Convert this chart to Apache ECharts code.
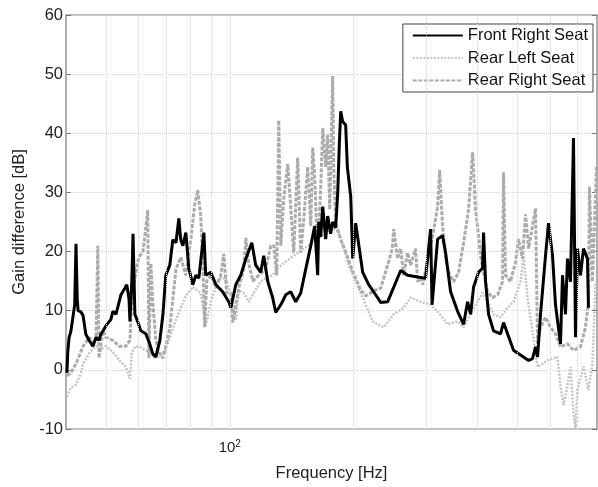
<!DOCTYPE html>
<html><head><meta charset="utf-8">
<script src="https://cdn.jsdelivr.net/npm/echarts@6/dist/echarts.min.js"></script>
<style>html,body{margin:0;padding:0;background:#fff}#c{width:598px;height:487px}</style>
</head><body><div id="c"></div>
<script>
// [frequency Hz, gain difference dB]
const frontRight = [[40.2,-0.5],[40.4,3],[40.7,5.5],[41.1,6.5],[41.6,9],[42.0,11],[42.3,21.3],[42.6,12],[42.8,10],[43.5,9.8],[44.0,9.2],[44.7,6],[45.5,5],[46.0,4.5],[46.5,4],[47.3,5.5],[48.1,5],[48.6,6],[49.2,6.6],[50.3,7.7],[51.4,8.5],[52.0,9.9],[52.9,9.4],[54.4,12.7],[55.6,13.8],[56.2,14.4],[56.9,12],[57.2,8.2],[57.8,15],[58.2,23],[58.8,9.4],[59.7,8.2],[60.8,6.6],[62.5,6.1],[63.9,4.4],[65.0,2.7],[66.1,2.2],[67.6,4.9],[68.8,9.4],[69.9,16],[71.5,17.7],[72.7,22],[74.0,21.5],[75.2,25.6],[76.0,22],[76.9,21],[78.2,23.2],[79.5,17.2],[81.3,14.4],[82.7,16],[84.1,15.5],[86.5,23.2],[87.4,16],[89.9,16.5],[92.5,14.4],[96.1,13.2],[99.4,11.5],[100.6,10.5],[103.4,14.4],[106.3,16],[109.4,18.8],[113.1,21.5],[115.6,17.7],[118.9,16.5],[120.9,19.3],[123.7,14.9],[127.1,12.2],[129.3,9.7],[133,11],[136.8,12.7],[140.6,13.2],[144.6,11.5],[148.7,13],[152.9,17],[157.3,21],[160.8,24.3],[163.5,16],[164.4,25],[166.3,22.5],[168.2,27.6],[171.0,22.1],[172.9,26],[175.8,23],[177.8,25],[180.8,24],[182.9,30],[184.5,38],[186.0,43.7],[188,42],[191.2,41.4],[193,34.3],[196.7,29.3],[198.9,18.8],[202.2,24.8],[210.3,16.5],[217.5,14.4],[226.1,12.7],[232.6,11.4],[241.8,11.5],[260.1,16.8],[270.4,16],[285.9,15.7],[299.0,15.5],[307.5,23.8],[310.0,11],[319.8,22.1],[328.8,22.7],[334.4,19.8],[343.9,13.2],[357.6,9.9],[369.8,7.7],[378.2,11.5],[384.6,9.4],[391.1,14],[402.1,16.5],[411.2,17.2],[413.5,23.2],[418.2,14.9],[425.3,9.4],[437.3,6.6],[454.7,6.1],[462.4,8],[472.9,6.1],[489.0,3.3],[508.5,2.5],[532.0,1.6],[543.8,1.9],[553.1,3.9],[559.4,2.2],[568.7,9.4],[584.8,19.3],[594.7,24.8],[608.2,19.3],[618.4,11],[635.9,4.4],[643.1,16],[653.9,9.4],[661.3,18.8],[672.5,14.9],[683.9,39.2],[691.6,5.5],[699.3,20.5],[711.2,16],[723.2,20.5],[739.5,18.8],[743.6,10.5]];

const rearLeft = [[40.2,-4.5],[41.1,-3],[42.3,-2.5],[43.5,-0.5],[44.0,1],[45.7,3],[47.3,4],[48.6,3.5],[50.0,4],[52.0,3],[54.1,1.5],[55.9,0.5],[57.2,-1.5],[57.8,3],[59.1,4],[60.8,3.8],[63.6,3],[66.1,2],[68.0,2.5],[69.9,3.5],[71.9,6],[74.0,8.5],[76.0,10.5],[78.2,12.5],[81.3,14],[85.0,13],[87.4,7.5],[89.9,11.5],[92.5,14],[95.1,15.5],[97.8,15.5],[100.6,12.5],[103.4,8.5],[105.2,13.5],[108.1,13],[111.2,11.5],[114.4,13],[118.9,15],[122.3,15.5],[127.1,16],[130,17],[135,18],[141,19],[148,20],[155,21],[163,22],[170,23],[178,24],[184,23.2],[194.5,17.7],[202.2,14.9],[213.9,11],[222.4,8.2],[228.7,7.7],[236.5,7.2],[250.1,9.4],[264.5,10.5],[275,12.2],[290.8,11.5],[307.5,11],[319.8,9.9],[338.2,7.7],[357.6,8.2],[369.8,7.2],[384.6,9.4],[399.9,11.5],[411.2,13],[423,11.5],[437.3,9.4],[454.7,8.9],[472.9,10.5],[489,11.5],[508.5,14.9],[517.1,19.3],[529,12],[540,8],[559.4,0.5],[591.4,1.6],[625.3,2.2],[635.9,-2.7],[646.7,-6],[661.3,-2.7],[672.5,0.5],[683.9,-7.2],[691.6,-10],[699.3,-3.4],[723.2,0.6],[743.6,-3.4],[760.3,1],[773.4,14.9]];

const rearRight = [[40.2,-1],[41.1,-0.5],[42.3,1],[44.0,4],[45.7,5.5],[46.5,4.5],[47.3,5],[47.8,21],[48.1,2],[49.2,6.6],[50.0,5.5],[52.0,5],[53.8,4],[55.9,4],[57.2,5],[57.8,12],[58.8,15.5],[60.1,19],[61.5,20],[62.5,24],[63.2,27],[63.6,2],[64.3,18],[65.0,11.5],[66.1,5],[67.2,3],[68.8,2],[69.9,4],[71.5,7],[72.7,12],[74.0,17],[76.0,19],[78.2,16],[80.4,22],[82.2,28],[83.6,30.4],[85.0,26],[86.0,18],[86.9,7.2],[87.9,15],[89.9,16],[92.5,14],[95.1,16],[96.7,19.6],[98.3,13],[100.6,13],[101.7,8],[105.2,14],[108.1,17],[109.4,22.3],[111.2,18],[113.8,15],[117.6,16],[122.3,17],[125.7,21],[127.9,21],[130.0,16],[131.5,42.2],[133.0,21],[135.2,28.8],[138.3,34.8],[140.6,27.6],[143.0,19.8],[146.2,35.9],[148.7,19.8],[151.2,25.4],[154.6,34.3],[157.3,24.3],[159.0,37.6],[160.8,32.6],[163.5,18.8],[166.3,31],[168.2,40.9],[171.0,34.3],[172.9,39.8],[174.9,27.1],[177.8,49.7],[178.8,34.3],[180.8,24.8],[183.9,23.2],[186.0,22],[191.2,20],[196.7,17.5],[202.2,15.5],[208.0,13.5],[213.9,12.5],[219.9,13],[226.1,13.5],[232.6,13.8],[241.8,17.7],[248.2,20.5],[250.1,23.8],[255.7,18.8],[260.1,20.5],[264.5,16],[270.4,19.8],[275.0,17.7],[282.8,20.5],[285.9,14.9],[290.8,15.5],[294.5,14.4],[302.8,18.8],[311.3,22.7],[319.8,27.6],[323.4,33.8],[328.8,24.3],[334.4,18.8],[340.1,16.5],[349.7,14.9],[359.6,16.5],[369.8,21.5],[380.3,27.1],[388.9,36.8],[395.4,27.1],[402.1,22.7],[406.6,19.3],[413.5,16.5],[423.0,13.2],[434.9,12.2],[447.2,12.7],[459.8,14.9],[462.4,33.4],[467.6,16],[480.8,14.9],[494.5,18.2],[502.7,22.1],[514.2,18.8],[523.0,26.3],[532.0,20.5],[553.1,27.3],[559.4,4.4],[568.7,7.2],[584.8,8.9],[601.4,7.2],[618.4,6.1],[635.9,3.9],[661.3,4.4],[683.9,3.3],[711.2,3.9],[731.3,7.2],[743.6,11.5],[747.8,31],[760.3,14.9],[777.7,34.3]];

const seriesNames = ['Front Right Seat', 'Rear Left Seat', 'Rear Right Seat'];
const xGridValues = [50,60,70,80,90,100,200,300,400,500,600,700];
const yTicks = {min: -10, max: 60, interval: 10};
const xRange = {min: 40, max: 780};

const FONT = "'Liberation Sans', Arial, sans-serif";
const chart = echarts.init(document.getElementById('c'), null, {renderer: 'canvas'});
chart.setOption({
  animation: false,
  backgroundColor: '#fff',
  textStyle: {fontFamily: FONT},
  grid: {left: 66, top: 15, right: 1, bottom: 50, show: true, borderColor: '#7a7a7a', borderWidth: 1.2},
  legend: {
    data: seriesNames, orient: 'vertical', right: 5, top: 24,
    itemWidth: 50, itemHeight: 15, itemGap: 5.5,
    padding: [3, 5, 3, 9],
    borderColor: '#444', borderWidth: 1, backgroundColor: '#fff',
    itemStyle: {color: 'transparent', borderColor: 'transparent', borderWidth: 0, opacity: 0},
    textStyle: {fontSize: 16.5, color: '#111', fontFamily: FONT}
  },
  xAxis: {
    type: 'log', logBase: 10, min: xRange.min, max: xRange.max,
    name: 'Frequency [Hz]', nameLocation: 'middle', nameGap: 36,
    nameTextStyle: {fontSize: 16.5, color: '#222', fontFamily: FONT},
    axisLine: {show: false},
    axisTick: {show: false},
    splitLine: {show: false},
    axisLabel: {
      margin: 10, showMinLabel: false, showMaxLabel: false,
      formatter: v => Math.abs(v - 100) < 1e-6 ? '{b|10}{s|2}' : '',
      rich: {b: {fontSize: 15, color: '#222', fontFamily: FONT}, s: {fontSize: 10, color: '#222', fontFamily: FONT, verticalAlign: 'top', padding: [0,0,8,0]}}
    }
  },
  yAxis: [{
    type: 'value', min: yTicks.min, max: yTicks.max, interval: yTicks.interval,
    name: 'Gain difference [dB]', nameLocation: 'middle', nameGap: 37, nameRotate: 90,
    nameTextStyle: {fontSize: 16.5, color: '#222', fontFamily: FONT},
    axisLine: {show: false},
    axisTick: {show: true, inside: true, length: 5, lineStyle: {color: '#777'}},
    axisLabel: {fontSize: 16.5, color: '#222', margin: 3, fontFamily: FONT},
    splitLine: {show: true, lineStyle: {color: '#d4d4d4', type: 'dotted', width: 1}}
  }, {
    type: 'value', min: yTicks.min, max: yTicks.max, interval: yTicks.interval, position: 'right',
    axisLine: {show: false}, axisLabel: {show: false}, splitLine: {show: false},
    axisTick: {show: true, inside: true, length: 5, lineStyle: {color: '#777'}}
  }],
  series: [
    {name: '_grid', type: 'line', data: [], silent: true, z: 1,
     markLine: {silent: true, symbol: 'none', label: {show: false},
       lineStyle: {color: '#d4d4d4', type: 'dotted', width: 1},
       data: xGridValues.map(v => ({xAxis: v}))}},
    {name: seriesNames[1], type: 'line', data: rearLeft, showSymbol: false, symbol: 'none', z: 2,
     lineStyle: {color: '#c4c4c4', width: 2.5, type: [2, 1.5]}, itemStyle: {color: '#c4c4c4'}},
    {name: seriesNames[2], type: 'line', data: rearRight, showSymbol: false, symbol: 'none', z: 3,
     lineStyle: {color: '#ababab', width: 3, type: [4, 1.5]}, itemStyle: {color: '#ababab'}},
    {name: seriesNames[0], type: 'line', data: frontRight, showSymbol: false, symbol: 'none', z: 4,
     lineStyle: {color: '#000', width: 3}, itemStyle: {color: '#000'}}
  ]
});
</script></body></html>
